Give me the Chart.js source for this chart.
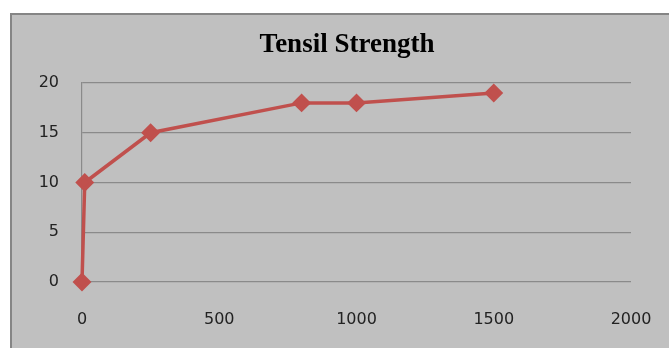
<!DOCTYPE html>
<html><head><meta charset="utf-8">
<script src="https://cdn.jsdelivr.net/npm/chart.js@4/dist/chart.umd.min.js"></script>
<style>
html,body{margin:0;padding:0;background:#fff;width:669px;height:348px;overflow:hidden;}
#frame{position:absolute;left:10px;top:13px;width:700px;height:400px;background:#c0c0c0;border:2px solid #858585;box-sizing:border-box;}
#wrap{position:absolute;left:0;top:0;width:669px;height:348px;}
</style></head><body>
<div id="frame"></div>
<div id="wrap"><canvas id="c" width="669" height="348"></canvas></div>
<script>
const titleText = "Tensil Strength";
const xValues = [0, 10, 250, 800, 1000, 1500];
const yValues = [0, 10, 15, 18, 18, 19];
const xTicks = [0, 500, 1000, 1500, 2000];
const yTicks = [0, 5, 10, 15, 20];

const points = xValues.map((x, i) => ({x: x, y: yValues[i]}));

const titlePlugin = {
  id: 'customTitle',
  afterDraw(chart) {
    const ctx = chart.ctx;
    ctx.save();
    ctx.font = 'bold 27px "Liberation Serif", "Times New Roman", serif';
    ctx.fillStyle = '#000';
    ctx.textAlign = 'center';
    ctx.textBaseline = 'alphabetic';
    ctx.fillText(titleText, 347, 52);
    ctx.restore();
  }
};

new Chart(document.getElementById('c'), {
  type: 'scatter',
  data: {
    datasets: [{
      data: points,
      showLine: true,
      clip: false,
      borderColor: '#c0504d',
      backgroundColor: '#c0504d',
      borderWidth: 3.5,
      pointStyle: 'rectRot',
      pointRadius: 7,
      pointHoverRadius: 7,
      tension: 0
    }]
  },
  options: {
    responsive: false,
    animation: false,
    events: [],
    layout: {padding: {left: 0, right: 38, top: 83, bottom: 0}},
    plugins: {legend: {display: false}, tooltip: {enabled: false}, title: {display: false}},
    scales: {
      x: {
        type: 'linear', min: 0, max: 2000,
        afterBuildTicks: s => { s.ticks = xTicks.map(v => ({value: v})); },
        afterFit: s => { s.height = 66; s.paddingLeft = 0; s.paddingRight = 0; },
        grid: {display: false, drawTicks: false},
        border: {display: false},
        ticks: {padding: 28, color: '#222', font: {family: '"DejaVu Sans", sans-serif', size: 16}, maxRotation: 0,
                callback: v => String(v)}
      },
      y: {
        type: 'linear', min: 0, max: 20,
        afterBuildTicks: s => { s.ticks = yTicks.map(v => ({value: v})); },
        afterFit: s => { s.width = 82; s.paddingTop = 0; s.paddingBottom = 0; },
        grid: {color: '#8a8a8a', lineWidth: 1.2, drawTicks: false},
        border: {display: true, color: '#8a8a8a', width: 1.2},
        ticks: {padding: 23, color: '#222', font: {family: '"DejaVu Sans", sans-serif', size: 16},
                callback: v => String(v)}
      }
    }
  },
  plugins: [titlePlugin]
});
</script>
</body></html>
